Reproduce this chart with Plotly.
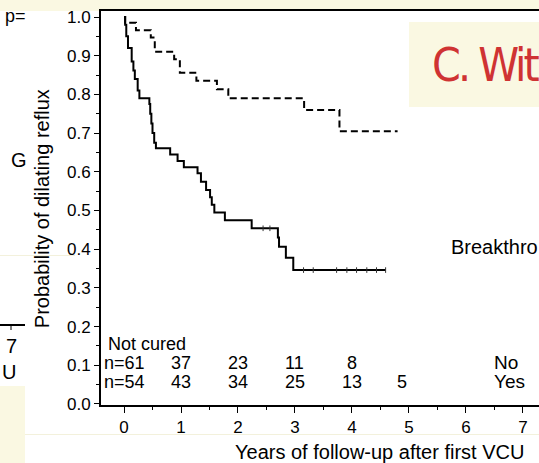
import plotly.graph_objects as go

# ---- data ----
# Kaplan-Meier step curves (time in years, probability)
cured_no_t = [0, 0.02, 0.04, 0.07, 0.135, 0.165, 0.19, 0.24, 0.27, 0.445, 0.46, 0.48, 0.50,
              0.53, 0.56, 0.81, 0.94, 1.05, 1.29, 1.35, 1.44, 1.51, 1.54, 1.585, 1.77,
              2.24, 2.70, 2.72, 2.84, 2.97, 4.59]
cured_no_p = [1.0, 0.98, 0.95, 0.92, 0.885, 0.862, 0.84, 0.81, 0.79, 0.775, 0.75, 0.725, 0.70,
              0.675, 0.661, 0.645, 0.628, 0.612, 0.596, 0.574, 0.553, 0.534, 0.515, 0.495, 0.475,
              0.454, 0.43, 0.406, 0.378, 0.346, 0.346]
cured_yes_t = [0, 0.02, 0.21, 0.47, 0.54, 0.88, 0.98, 1.27, 1.63, 1.83, 3.16, 3.78, 4.80]
cured_yes_p = [1.0, 0.985, 0.966, 0.947, 0.910, 0.891, 0.856, 0.835, 0.813, 0.790, 0.760, 0.705, 0.705]
censor_no_t = [2.44, 2.56, 3.15, 3.32, 3.73, 3.91, 4.08, 4.26, 4.43, 4.59]

# numbers at risk
risk_times = [0, 1, 2, 3, 4, 4.87]
risk_no = ["n=61", "37", "23", "11", "8", ""]
risk_yes = ["n=54", "43", "34", "25", "13", "5"]
risk_row_labels = ["No", "Yes"]

x_ticks = [0, 1, 2, 3, 4, 5, 6, 7]
y_ticks = [0.0, 0.1, 0.2, 0.3, 0.4, 0.5, 0.6, 0.7, 0.8, 0.9, 1.0]


def step_value(ts, ps, t):
    v = ps[0]
    for a, b in zip(ts, ps):
        if a <= t:
            v = b
    return v


FONT = "Liberation Sans, Arial, sans-serif"
BEIGE = "#faf8e2"
RED = "#cf3333"

fig = go.Figure()
fig.add_trace(go.Scatter(x=cured_no_t, y=cured_no_p, mode="lines", line_shape="hv",
                         line=dict(color="black", width=2), showlegend=False, hoverinfo="skip"))
fig.add_trace(go.Scatter(x=cured_yes_t, y=cured_yes_p, mode="lines", line_shape="hv",
                         line=dict(color="black", width=2, dash="7px,4px"),
                         showlegend=False, hoverinfo="skip"))
fig.add_trace(go.Scatter(x=censor_no_t, y=[step_value(cured_no_t, cured_no_p, t) for t in censor_no_t],
                         mode="markers",
                         marker=dict(symbol="line-ns-open", size=4, color="#333333",
                                     line=dict(color="#333333", width=1)),
                         showlegend=False, hoverinfo="skip"))

ann = []
# number at risk
ann.append(dict(x=-0.31, y=0.155, xref="x", yref="y", text="Not cured", showarrow=False,
                xanchor="left", yanchor="middle", font=dict(family=FONT, size=18, color="black")))
for t, a, b in zip(risk_times, risk_no, risk_yes):
    if a:
        ann.append(dict(x=t, y=0.106, xref="x", yref="y", text=a, showarrow=False,
                        xanchor="center", yanchor="middle", font=dict(family=FONT, size=18, color="black")))
    if b:
        ann.append(dict(x=t, y=0.057, xref="x", yref="y", text=b, showarrow=False,
                        xanchor="center", yanchor="middle", font=dict(family=FONT, size=18, color="black")))
for lab, yy in zip(risk_row_labels, [0.106, 0.057]):
    ann.append(dict(x=6.45, y=yy, xref="x", yref="y", text=lab, showarrow=False,
                    xanchor="left", yanchor="middle", font=dict(family=FONT, size=19, color="black")))
ann.append(dict(x=5.70, y=0.406, xref="x", yref="y", text="Breakthro", showarrow=False,
                xanchor="left", yanchor="middle", font=dict(family=FONT, size=20, color="black")))

# axis titles
ann.append(dict(x=-0.1347, y=0.497, xref="paper", yref="paper", text="Probability of dilating reflux",
                textangle=-90, showarrow=False, xanchor="center", yanchor="middle",
                font=dict(family=FONT, size=20, color="black")))
ann.append(dict(x=0.636, y=-0.119, xref="paper", yref="paper", text="Years of follow-up after first VCU",
                showarrow=False, xanchor="center", yanchor="middle",
                font=dict(family=FONT, size=20, color="black")))

# panel label (condensed face, tightened)
ann.append(dict(x=(430 - 101) / 438, y=(405 - 65) / 394, xref="paper", yref="paper",
                text='<span style="font-stretch:condensed;letter-spacing:-3px">C. Wit</span>',
                showarrow=False, xanchor="left", yanchor="middle",
                font=dict(family="DejaVu Sans", size=46, color=RED)))


# fragments of the neighbouring panel on the left
def px(xp):
    return (xp - 101) / 438


def py(yp):
    return (405 - yp) / 394


ann.append(dict(x=px(3), y=py(16), xref="paper", yref="paper", text="p=", showarrow=False,
                xanchor="left", yanchor="middle", font=dict(family=FONT, size=18, color="black")))
ann.append(dict(x=px(19), y=py(160), xref="paper", yref="paper", text="G", showarrow=False,
                xanchor="center", yanchor="middle", font=dict(family=FONT, size=20, color="black")))
ann.append(dict(x=px(11), y=py(346), xref="paper", yref="paper", text="7", showarrow=False,
                xanchor="center", yanchor="middle", font=dict(family=FONT, size=20, color="black")))
ann.append(dict(x=px(9), y=py(372), xref="paper", yref="paper", text="U", showarrow=False,
                xanchor="center", yanchor="middle", font=dict(family=FONT, size=20, color="black")))

shapes = [
    dict(type="rect", xref="paper", yref="paper", x0=px(0), x1=px(539), y0=py(11), y1=py(0),
         fillcolor=BEIGE, line_width=0, layer="below"),
    dict(type="rect", xref="paper", yref="paper", x0=px(409), x1=px(540), y0=py(107), y1=py(22),
         fillcolor=BEIGE, line_width=0, layer="below"),
    dict(type="rect", xref="paper", yref="paper", x0=px(0), x1=px(25), y0=py(463), y1=py(386),
         fillcolor=BEIGE, line_width=0, layer="below"),
    dict(type="line", xref="paper", yref="paper", x0=px(0), x1=px(75), y0=py(255.5), y1=py(255.5),
         line=dict(color="#f3f1dc", width=1), layer="below"),
    dict(type="line", xref="paper", yref="paper", x0=px(25), x1=px(539), y0=py(434.5), y1=py(434.5),
         line=dict(color="#f3f1dc", width=1), layer="below"),
    dict(type="line", xref="paper", yref="paper", x0=px(0), x1=px(25), y0=py(325), y1=py(325),
         line=dict(color="black", width=2)),
    dict(type="line", xref="paper", yref="paper", x0=px(11), x1=px(11), y0=py(325), y1=py(330),
         line=dict(color="black", width=1)),
]

fig.update_layout(
    width=539, height=463,
    margin=dict(l=101, r=0, t=11, b=58, pad=0),
    paper_bgcolor="white", plot_bgcolor="white",
    font=dict(family=FONT, size=17, color="black"),
    annotations=ann, shapes=shapes,
    xaxis=dict(range=[-0.4035, 7.281], tickvals=x_ticks, ticktext=[str(v) for v in x_ticks],
               ticks="outside", ticklen=6, tickwidth=1, tickcolor="black",
               showline=True, linecolor="black", linewidth=2, mirror=True,
               showgrid=False, zeroline=False, tickfont=dict(family=FONT, size=17),
               minor=dict(dtick=0.5, tick0=0, ticks="outside", ticklen=3, tickcolor="black", tickwidth=1)),
    yaxis=dict(range=[-0.0026, 1.0155], tickvals=y_ticks, ticktext=["%.1f" % v for v in y_ticks],
               ticks="outside", ticklen=5, tickwidth=1, tickcolor="black",
               showline=True, linecolor="black", linewidth=2,
               showgrid=False, zeroline=False, tickfont=dict(family=FONT, size=17),
               minor=dict(dtick=0.05, tick0=0, ticks="outside", ticklen=3, tickcolor="black", tickwidth=1)),
)

fig.write_html("out.html")
